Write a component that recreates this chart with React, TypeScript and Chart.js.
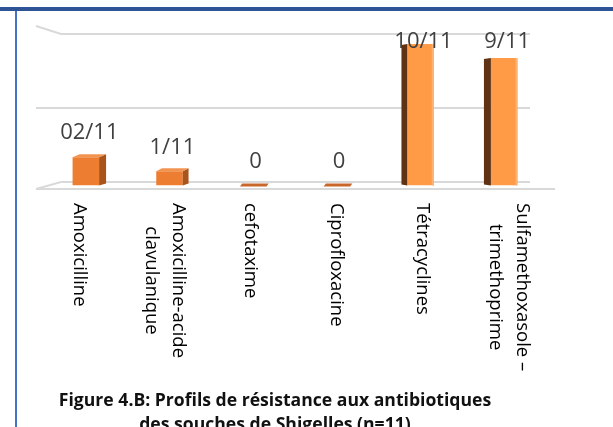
import React, { useEffect, useRef } from "react";
import { Chart, registerables } from "chart.js";

Chart.register(...registerables);

// ---- data ----
const categories: string[][] = [
  ["Amoxicilline"],
  ["Amoxicilline-acide", "clavulanique"],
  ["cefotaxime"],
  ["Ciprofloxacine"],
  ["Tétracyclines"],
  ["Sulfamethoxasole –", "trimethoprime"],
];
const resistantCounts = [2, 1, 0, 0, 10, 9];
const valueLabels = ["02/11", "1/11", "0", "0", "10/11", "9/11"];
const axisMax = 10.7;
const gridValues = [0, axisMax / 2, axisMax];
const captionLines = [
  "Figure 4.B: Profils de résistance aux antibiotiques",
  "des souches de Shigelles (n=11)",
];

// ---- style constants ----
const VANISH_FRAC = 0.6;
const GRID_COLOR = "#D9D9D9";

function vanishX(a: any) {
  return a.left + VANISH_FRAC * (a.right - a.left);
}
function sideWidth(x: number, a: any) {
  const c = (a.left + a.right) / 2;
  const half = (a.right - a.left) / 2 - 40;
  return 4 + 3 * Math.min(1, Math.abs(x - c) / half);
}
function poly(ctx: CanvasRenderingContext2D, pts: number[][], color: string) {
  ctx.beginPath();
  ctx.moveTo(pts[0][0], pts[0][1]);
  for (let i = 1; i < pts.length; i++) ctx.lineTo(pts[i][0], pts[i][1]);
  ctx.closePath();
  ctx.fillStyle = color;
  ctx.fill();
}

const wallsPlugin = {
  id: "walls3d",
  beforeDatasetsDraw(chart: any) {
    const { ctx, chartArea: a, scales } = chart;
    const y = scales.y;
    const backL = a.left + 17;
    const backR = a.right - 16;
    const wallL = a.left - 8;
    const depth = 3.5;
    ctx.save();
    ctx.strokeStyle = GRID_COLOR;
    ctx.lineWidth = 2;
    gridValues.forEach((v, i) => {
      const py = y.getPixelForValue(v) - depth * (1 - v / axisMax);
      ctx.beginPath();
      if (i === gridValues.length - 1) {
        ctx.moveTo(wallL, py - 8);
        ctx.lineTo(backL, py);
      } else if (i === 0) {
        ctx.moveTo(wallL, py + 7);
        ctx.lineTo(backL, py);
      } else {
        ctx.moveTo(wallL, py);
      }
      ctx.lineTo(backR, py);
      ctx.stroke();
      if (i === 0) {
        ctx.beginPath();
        ctx.moveTo(wallL, py + 7);
        ctx.lineTo(a.right + 9, py + 7);
        ctx.stroke();
      }
    });
    ctx.restore();
  },
};

const barsPlugin = {
  id: "bars3d",
  afterDatasetsDraw(chart: any) {
    const { ctx, chartArea: a } = chart;
    const meta = chart.getDatasetMeta(0);
    const vx = vanishX(a);
    ctx.save();
    meta.data.forEach((bar: any) => {
      const { x, y, base, width } = bar.getProps(["x", "y", "base", "width"], true);
      const l = x - width / 2;
      const r = x + width / 2;
      const sw = sideWidth(x, a);
      if (base - y < 1) {
        poly(ctx, [[l, base + 1], [r, base + 1], [r + sw * 0.5, base - 2], [l + sw * 0.5, base - 2]], "#C9672B");
        return;
      }
      if (x < vx) {
        poly(ctx, [[r, y], [r + sw, y - 3], [r + sw, base - 2], [r, base]], "#A9541B");
        poly(ctx, [[l, y], [r, y], [r + sw, y - 3], [l + sw, y - 3]], "#F29350");
      } else {
        poly(ctx, [[l, y], [l - sw, y + 1], [l - sw, base - 1], [l, base]], "#5E3212");
        ctx.fillStyle = "#FFB373";
        ctx.fillRect(r - 2, y, 2, base - y);
      }
    });
    // value labels
    ctx.fillStyle = "#404040";
    ctx.font = '22px "Open Sans"';
    ctx.textAlign = "center";
    ctx.textBaseline = "middle";
    meta.data.forEach((bar: any, i: number) => {
      const { x, y } = bar.getProps(["x", "y"], true);
      const sw = sideWidth(x, a);
      const lx = x < vx ? x + sw / 2 : x + 3;
      const ly = Math.max(y - 24, 42);
      ctx.fillText(valueLabels[i], lx, ly);
    });
    // category labels (rotated clockwise, reading top-down)
    const xs = chart.scales.x;
    ctx.fillStyle = "#000000";
    ctx.font = '18.5px "Open Sans"';
    const lh = 27;
    categories.forEach((lines, i) => {
      const bx = xs.getPixelForValue(i);
      const lx = vx + (bx - vx) * 1.027;
      const widths = lines.map((t) => ctx.measureText(t).width);
      const maxW = Math.max(...widths);
      ctx.save();
      ctx.translate(lx, 203);
      ctx.rotate(Math.PI / 2);
      ctx.textAlign = "center";
      ctx.textBaseline = "middle";
      lines.forEach((t, k) => {
        ctx.fillText(t, maxW / 2, (k - (lines.length - 1) / 2) * lh);
      });
      ctx.restore();
    });
    ctx.restore();
  },
};

export default function App() {
  const ref = useRef<HTMLCanvasElement | null>(null);
  useEffect(() => {
    if (!ref.current) return;
    const n = categories.length;
    const chart = new Chart(ref.current, {
      type: "bar",
      data: {
        labels: categories.map((c) => c.join(" ")),
        datasets: [
          {
            data: resistantCounts,
            backgroundColor: (c: any) =>
              (c.dataIndex + 0.5) / n > VANISH_FRAC ? "#FF9A47" : "#ED7D31",
            borderWidth: 0,
            barPercentage: 0.317,
            categoryPercentage: 1,
          },
        ],
      },
      options: {
        responsive: false,
        animation: false,
        devicePixelRatio: 1,
        layout: { padding: { left: 44, right: 67, top: 34, bottom: 241.5 } },
        plugins: { legend: { display: false }, tooltip: { enabled: false }, title: { display: false } },
        scales: {
          x: { display: false, offset: true, grid: { display: false } },
          y: { display: false, min: 0, max: axisMax, grid: { display: false } },
        },
      },
      plugins: [wallsPlugin, barsPlugin],
    });
    return () => chart.destroy();
  }, []);

  return (
    <div
      style={{
        position: "absolute",
        left: 0,
        top: 0,
        width: 613,
        height: 427,
        overflow: "hidden",
        background: "#ffffff",
      }}
    >
      <div style={{ position: "absolute", left: 0, top: 7, width: 613, height: 4, background: "#2F5496" }} />
      <div style={{ position: "absolute", left: 15, top: 11, width: 2, height: 416, background: "#4472C4" }} />
      <canvas ref={ref} width={613} height={427} style={{ position: "absolute", left: 0, top: 0, width: 613, height: 427 }} />
      <div
        style={{
          position: "absolute",
          left: 0,
          top: 387,
          width: 550,
          textAlign: "center",
          fontFamily: '"Open Sans", sans-serif',
          fontWeight: 700,
          fontSize: 17.6,
          lineHeight: "24px",
          color: "#111111",
          whiteSpace: "nowrap",
        }}
      >
        {captionLines.map((t, i) => (
          <div key={i}>{t}</div>
        ))}
      </div>
    </div>
  );
}
